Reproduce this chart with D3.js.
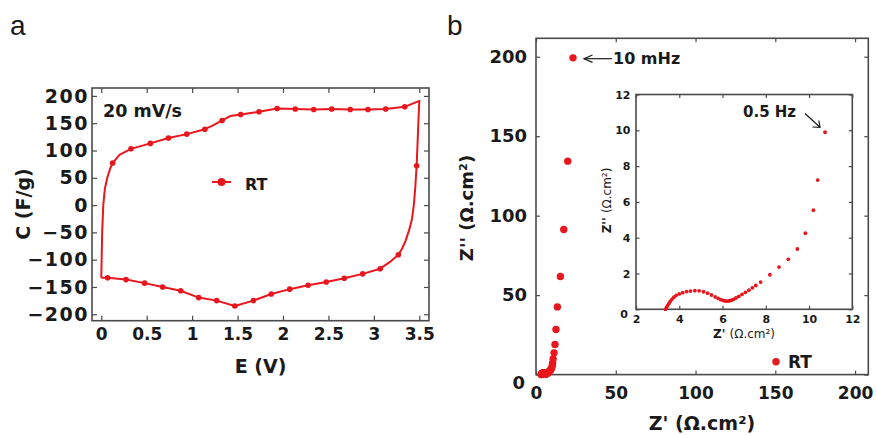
<!DOCTYPE html>
<html><head><meta charset="utf-8">
<script src="https://cdn.jsdelivr.net/npm/d3@7"></script>
<style>
body{margin:0;background:#fff;}
svg{display:block;}
text{font-family:"DejaVu Sans",sans-serif;font-weight:bold;fill:#1a1a1a;}
</style></head><body>
<svg id="c" width="877" height="435"></svg>
<script>
// ---------- Panel a: cyclic voltammetry (C vs E) ----------
const cvFwdE = [0,0.004,0.01,0.022,0.04,0.066,0.1,0.125,0.2,0.327,0.54,0.74,0.94,1.14,1.22,1.33,1.42,1.535,1.736,1.935,2.135,2.338,2.536,2.74,2.935,3.13,3.34,3.5];
const cvFwdC = [-133,-100,-50,0,30,50,68,77,92,103,113,123,130,139,145,155,163,166,171,177,176,175,176,175,175,176,180,191];
const cvFwdMark = [0,0,0,0,0,0,0,1,0,1,1,1,1,1,0,1,0,1,1,1,1,1,1,1,1,1,1,0];
const cvRevE = [3.5,3.471,3.455,3.44,3.42,3.39,3.35,3.31,3.27,3.17,3.07,2.877,2.675,2.476,2.276,2.074,1.871,1.675,1.47,1.27,1.072,0.874,0.675,0.477,0.272,0.07,0];
const cvRevC = [191,72,30,0,-25,-45,-65,-80,-91,-105,-116.5,-126,-134,-141,-147,-154,-163,-175,-185,-175,-169.5,-157,-150,-143,-136.5,-133,-133];
const cvRevMark = [0,1,0,0,0,0,0,0,1,0,1,1,1,1,1,1,1,1,1,1,1,1,1,1,1,1,0];
const aXTicks = [0,0.5,1,1.5,2,2.5,3,3.5];
const aYTicks = [-200,-150,-100,-50,0,50,100,150,200];

// ---------- Panel b: impedance (Nyquist) ----------
const eisZre = [3.36,3.41,3.46,3.52,3.58,3.66,3.75,3.86,4.0,4.16,4.34,4.52,4.72,4.92,5.12,5.31,5.49,5.66,5.80,5.92,6.02,6.10,6.18,6.26,6.34,6.42,6.51,6.62,6.75,6.90,7.06,7.22,7.38,7.54,7.76,8.19,8.61,9.04,9.46,9.83,10.2,10.4,10.74];
const eisZim = [0.0,0.1,0.2,0.32,0.44,0.56,0.68,0.78,0.86,0.93,0.99,1.02,1.04,1.03,0.98,0.90,0.80,0.69,0.61,0.54,0.50,0.47,0.46,0.46,0.48,0.51,0.56,0.63,0.72,0.83,0.95,1.07,1.2,1.33,1.52,1.93,2.36,2.79,3.37,4.25,5.54,7.22,9.89];
const eisHiZre = [11.3,11.9,12.5,13.4,15.3,17.4,19.9,23.2];
const eisHiZim = [13.7,18.9,28.4,42.6,61.7,91.3,134.3,199.3];
const bXTicks = [0,50,100,150,200];
const bYTicks = [0,50,100,150,200];
const inXTicks = [2,4,6,8,10,12];
const inYTicks = [0,2,4,6,8,10,12];

const svg = d3.select("#c");
const RED = "#e8161d";
const FRAME = "#4a4a4a";

function frame(x, y, o) {
  const g = svg.append("g").attr("color", FRAME);
  const [x0, x1] = x.range(), [y0, y1] = y.range();
  const b = g.append("g").attr("transform", `translate(0,${y0})`)
    .call(d3.axisBottom(x).tickValues(o.xt).tickFormat(o.xf || d3.format("")).tickSizeInner(-o.ts).tickSizeOuter(0).tickPadding(o.xp));
  b.selectAll("text").style("font-size", o.xfs + "px");
  g.append("g").attr("transform", `translate(0,${y1})`)
    .call(d3.axisTop(x).tickValues(o.xt).tickFormat(() => "").tickSizeInner(-o.ts).tickSizeOuter(0));
  const l = g.append("g").attr("transform", `translate(${x0},0)`)
    .call(d3.axisLeft(y).tickValues(o.yt).tickFormat(d3.format("")).tickSizeInner(-o.ts).tickSizeOuter(0).tickPadding(o.yp));
  l.selectAll("text").style("font-size", o.yfs + "px").style("letter-spacing", (o.yls || 0) + "px");
  g.append("g").attr("transform", `translate(${x1},0)`)
    .call(d3.axisRight(y).tickValues(o.yt).tickFormat(() => "").tickSizeInner(-o.ts).tickSizeOuter(0));
  g.selectAll(".domain").remove();
  g.selectAll(".tick line").attr("stroke-width", 1.2);
  g.append("rect").attr("x", x0).attr("y", y1).attr("width", x1 - x0).attr("height", y0 - y1)
    .attr("fill", "none").attr("stroke", FRAME).attr("stroke-width", 1.6);
  return {b, l};
}

// ===== Panel a =====
const ax = d3.scaleLinear().domain([-0.102, 3.607]).range([92, 429]);
const ay = d3.scaleLinear().domain([-211.8, 214.5]).range([320.7, 88]);
frame(ax, ay, {xt: aXTicks, yt: aYTicks, ts: 5, xp: 7, yp: 3, xfs: 17, yfs: 19, yls: 1.5});

const fwd = cvFwdE.map((e, i) => ({e, c: cvFwdC[i], m: cvFwdMark[i]}));
const rev = cvRevE.map((e, i) => ({e, c: cvRevC[i], m: cvRevMark[i]}));
const cvAll = fwd.concat(rev);
const cvLine = d3.line().x(d => ax(d.e)).y(d => ay(d.c));
svg.append("path").datum(cvAll).attr("d", cvLine).attr("fill", "none")
  .attr("stroke", RED).attr("stroke-width", 2).attr("stroke-linejoin", "round");
svg.append("g").selectAll("circle").data(cvAll.filter(d => d.m)).join("circle")
  .attr("cx", d => ax(d.e)).attr("cy", d => ay(d.c)).attr("r", 2.8).attr("fill", RED);

svg.append("text").attr("x", 103).attr("y", 117).style("font-size", "17.5px").text("20 mV/s");
// legend a
svg.append("line").attr("x1", 212).attr("x2", 231).attr("y1", 182).attr("y2", 182).attr("stroke", RED).attr("stroke-width", 2);
svg.append("circle").attr("cx", 221.5).attr("cy", 182).attr("r", 4).attr("fill", RED);
svg.append("text").attr("x", 245).attr("y", 190).style("font-size", "16px").text("RT");
// axis titles a
svg.append("text").attr("x", 260.5).attr("y", 373).attr("text-anchor", "middle").style("font-size", "19px").text("E (V)");
svg.append("text").attr("transform", "translate(29.5,204) rotate(-90)").attr("text-anchor", "middle").style("font-size", "19px").text("C (F/g)");
svg.append("text").attr("x", 10).attr("y", 35).style("font-family", "'Liberation Sans',Arial,sans-serif").style("font-weight", "normal").style("font-size", "28px").text("a");

// ===== Panel b =====
const bx = d3.scaleLinear().domain([0, 208.3]).range([536, 868.3]);
const by = d3.scaleLinear().domain([0, 211.6]).range([374.6, 38.3]);
const fb = frame(bx, by, {xt: bXTicks, yt: bYTicks, ts: 4, xp: 12, yp: 9, xfs: 17, yfs: 18});
fb.l.selectAll(".tick").filter(d => d === 0).select("text").attr("dy", "0.75em").attr("x", -11);

const mainPts = eisZre.map((z, i) => [z, eisZim[i]]).concat(eisHiZre.map((z, i) => [z, eisHiZim[i]]));
svg.append("g").selectAll("circle").data(mainPts).join("circle")
  .attr("cx", d => bx(d[0])).attr("cy", d => by(d[1])).attr("r", 3.7).attr("fill", RED);

// inset
const ix = d3.scaleLinear().domain([2, 12]).range([636, 852.3]);
const iy = d3.scaleLinear().domain([0, 12]).range([309.3, 94.5]);
svg.append("rect").attr("x", 636).attr("y", 94.5).attr("width", 216.3).attr("height", 214.8).attr("fill", "#fff");
const fi = frame(ix, iy, {xt: inXTicks, yt: inYTicks, ts: 3.5, xp: 5.5, yp: 5.5, xfs: 11, yfs: 11});
fi.l.selectAll(".tick").filter(d => d === 0).select("text").attr("dy", "0.7em").attr("x", -8);
svg.append("g").selectAll("circle").data(eisZre.map((z, i) => [z, eisZim[i]])).join("circle")
  .attr("cx", d => ix(d[0])).attr("cy", d => iy(d[1])).attr("r", 1.9).attr("fill", RED);

const xl = svg.append("text").attr("x", 744).attr("y", 338).attr("text-anchor", "middle").style("font-size", "12px");
xl.append("tspan").text("Z' ");
xl.append("tspan").style("font-weight", "normal").text("(Ω.cm²)");
const yl = svg.append("text").attr("transform", "translate(611,200.5) rotate(-90)").attr("text-anchor", "middle").style("font-size", "12px");
yl.append("tspan").text("Z'' ");
yl.append("tspan").style("font-weight", "normal").text("(Ω.cm²)");

// annotations
svg.append("text").attr("x", 613).attr("y", 64).style("font-size", "16px").text("10 mHz");
const arr = svg.append("g").attr("stroke", "#1a1a1a").attr("stroke-width", 1.2).attr("fill", "none");
arr.append("line").attr("x1", 612).attr("y1", 58.7).attr("x2", 584).attr("y2", 58.7);
arr.append("path").attr("d", "M592.5,55 L584,58.7 L592.5,62.4");
svg.append("text").attr("x", 743).attr("y", 116.5).style("font-size", "15px").text("0.5 Hz");
arr.append("line").attr("x1", 805).attr("y1", 113.5).attr("x2", 820).attr("y2", 127.3);
arr.append("path").attr("d", "M812.5,127 L820,127.3 L818.8,120.5");

// legend b
svg.append("circle").attr("cx", 776).attr("cy", 361.7).attr("r", 3.7).attr("fill", RED);
svg.append("text").attr("x", 788).attr("y", 368).style("font-size", "17px").text("RT");

// axis titles b
svg.append("text").attr("x", 702).attr("y", 430).attr("text-anchor", "middle").style("font-size", "19px").text("Z' (Ω.cm²)");
svg.append("text").attr("transform", "translate(473,208) rotate(-90)").attr("text-anchor", "middle").style("font-size", "18px").text("Z'' (Ω.cm²)");
svg.append("text").attr("x", 447).attr("y", 35).style("font-family", "'Liberation Sans',Arial,sans-serif").style("font-weight", "normal").style("font-size", "28px").text("b");
</script>
</body></html>
